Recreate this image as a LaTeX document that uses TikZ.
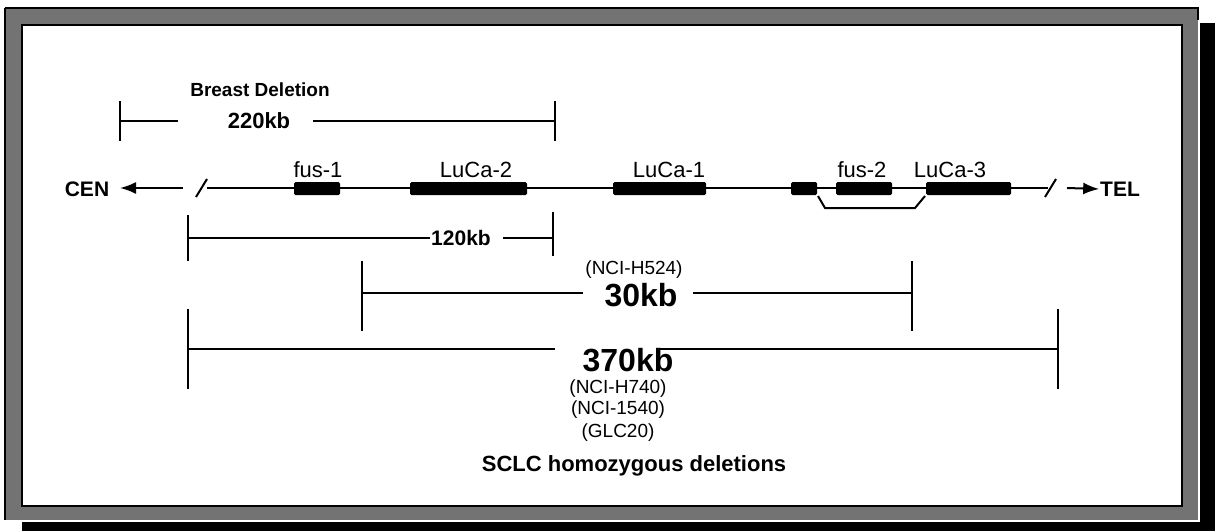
\documentclass[tikz,border=0pt]{standalone}
\usepackage{fontspec}
\setmainfont{Liberation Sans}
\usetikzlibrary{arrows.meta}

\tikzset{
  lbl/.style={inner sep=0pt, font=\fontsize{21}{21}\selectfont},
  blbl/.style={inner sep=0pt, font=\bfseries\fontsize{21}{21}\selectfont},
  big/.style={inner sep=0pt, font=\bfseries\fontsize{32}{32}\selectfont},
  cell/.style={inner sep=0pt, font=\fontsize{19}{19}\selectfont},
  gene/.style={fill=black, rounded corners=1.5pt, inner sep=0pt, minimum height=13pt},
  bar/.style={line width=2.4pt},
}

\begin{document}
\begin{tikzpicture}[x=1pt,y=-1pt, line width=2pt]
\useasboundingbox (0,0) rectangle (1216,531);
% frame and its shadow
\fill (22,23) rectangle (1215,531);
\fill[white] (3,6) rectangle (1200,522);
\fill[black!55] (5,8) rectangle (1198,520);
\fill[white] (22,25) rectangle (1182,506);
\draw[line width=2.5pt] (5,8) -- (1198,8) -- (1198,20);
\draw[line width=2.5pt] (5,520) -- (5,8);
\draw[line width=2pt] (22,25) rectangle (1182,506);

% breast deletion
\node[blbl, font=\bfseries\fontsize{19}{19}\selectfont] (breast) at (260,90) {Breast Deletion};
\coordinate (b220l) at (120,121);
\coordinate (b220r) at (555,121);
\node[blbl, font=\bfseries\fontsize{22}{22}\selectfont] (t220) at (259,121) {220kb};
\draw[bar] (b220l) -- (178,121);
\draw[bar] (313,121) -- (b220r);
\draw[bar] ([yshift=20pt]b220l) -- ([yshift=-20pt]b220l);
\draw[bar] ([yshift=20pt]b220r) -- ([yshift=-20pt]b220r);

% chromosome line
\draw (207,188) -- (1048,188);
\draw (196,197) -- (207,179);
\draw (1045,197) -- (1056,179);
\node[blbl] (cen) at (87,189) {CEN};
\node[blbl] (tel) at (1120,189) {TEL};
\coordinate (cenend) at (120,188);
\draw[-{Latex[length=16pt,width=12pt]}] (183,188) -- (cenend);
\draw[-{Latex[length=16pt,width=12pt]}] (1067,188) -- (tel.west);

% genes
\node[gene, minimum width=46pt] (fus1) at (317,188.5) {};
\node[gene, minimum width=117pt] (luca2) at (468.5,188.5) {};
\node[gene, minimum width=93pt] (luca1) at (659.5,188.5) {};
\node[gene, minimum width=26pt] (exon) at (804,188.5) {};
\node[gene, minimum width=56pt] (fus2) at (864,188.5) {};
\node[gene, minimum width=85pt] (luca3) at (968.5,188.5) {};
\node[lbl, font=\fontsize{22}{22}\selectfont] at (318,170) {fus-1};
\node[lbl, font=\fontsize{22}{22}\selectfont] at (476,170) {LuCa-2};
\node[lbl, font=\fontsize{22}{22}\selectfont] at (669,170) {LuCa-1};
\node[lbl, font=\fontsize{22}{22}\selectfont] at (862,170) {fus-2};
\node[lbl, font=\fontsize{22}{22}\selectfont] at (950,170) {LuCa-3};
\draw (exon.south east) -- (825,208) -- (915,208) -- (luca3.south west);

% 120kb
\coordinate (b120l) at (188,238);
\coordinate (b120r) at (553,238);
\node[blbl] (t120) at (461,238) {120kb};
\draw[bar] (b120l) -- (t120.west);
\draw[bar] (503,238) -- (b120r);
\draw[bar] ([yshift=23pt]b120l) -- ([yshift=-23pt]b120l);
\draw[bar] ([yshift=26pt]b120r) -- ([yshift=-18pt]b120r);

% 30kb
\node[cell] (h524) at (634,270) {(NCI-H524)};
\coordinate (b30l) at (362,293);
\coordinate (b30r) at (912,293);
\node[big] (t30) at (641,295) {30kb};
\draw[bar] (b30l) -- (583,293);
\draw[bar] (693,293) -- (b30r);
\draw[bar] ([yshift=32pt]b30l) -- ([yshift=-38pt]b30l);
\draw[bar] ([yshift=32pt]b30r) -- ([yshift=-38pt]b30r);

% 370kb
\coordinate (b370l) at (188,349);
\coordinate (b370r) at (1058,349);
\node[big] (t370) at (628,360) {370kb};
\draw[bar] (b370l) -- (555,349);
\draw[bar] (660,349) -- (b370r);
\draw[bar] ([yshift=40pt]b370l) -- ([yshift=-40pt]b370l);
\draw[bar] ([yshift=40pt]b370r) -- ([yshift=-40pt]b370r);
\node[cell] (h740) at (618,389) {(NCI-H740)};
\node[cell] (n1540) at (618,410) {(NCI-1540)};
\node[cell] (glc20) at (618,433) {(GLC20)};
\node[blbl, font=\bfseries\fontsize{22}{22}\selectfont] (sclc) at (634,466) {SCLC homozygous deletions};
\end{tikzpicture}
\end{document}
